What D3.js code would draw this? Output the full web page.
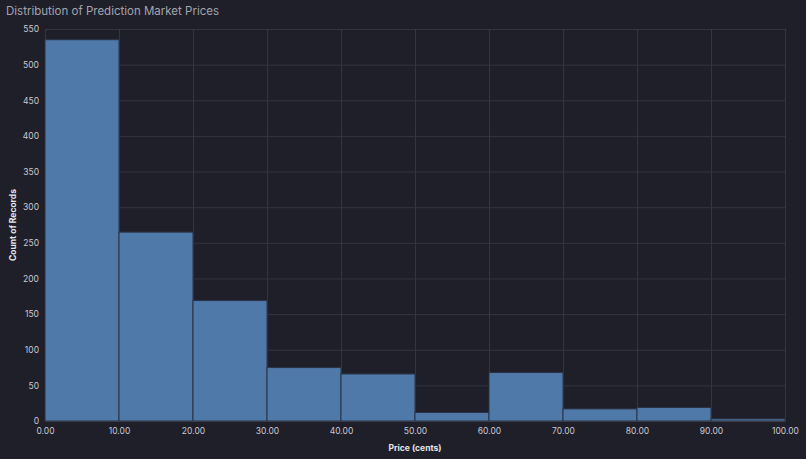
<!DOCTYPE html>
<html>
<head>
<meta charset="utf-8">
<script src="https://cdn.jsdelivr.net/npm/d3@7"></script>
<style>
  html, body { margin: 0; padding: 0; background: #1f1f29; }
  svg { display: block; }
</style>
</head>
<body>
<svg id="chart" width="806" height="459"></svg>
<script>
const binStarts = [0, 10, 20, 30, 40, 50, 60, 70, 80, 90];
const binWidth = 10;
const counts = [535, 265, 169, 75, 66, 12, 68, 17, 19, 3];
const xTicks = [0, 10, 20, 30, 40, 50, 60, 70, 80, 90, 100];
const yTicks = [0, 50, 100, 150, 200, 250, 300, 350, 400, 450, 500, 550];

const W = 806, H = 459;
const m = { left: 45, right: 21, top: 29, bottom: 38 };
const svg = d3.select("#chart");
const font = "Inter, 'Noto Sans', sans-serif";

svg.append("rect").attr("width", W).attr("height", H).attr("fill", "#1f1f29");

const x = d3.scaleLinear().domain([0, 100]).range([m.left, W - m.right]);
const y = d3.scaleLinear().domain([0, 550]).range([H - m.bottom, m.top]);

// gridlines
const grid = svg.append("g");
grid.selectAll(".hg").data(yTicks).join("line")
  .attr("x1", m.left).attr("x2", W - m.right)
  .attr("y1", d => y(d) + 0.5).attr("y2", d => y(d) + 0.5)
  .attr("stroke", "#34353f").attr("stroke-width", 1);
grid.selectAll(".vg").data(xTicks).join("line")
  .attr("x1", d => Math.round(x(d)) + 0.5).attr("x2", d => Math.round(x(d)) + 0.5)
  .attr("y1", m.top).attr("y2", H - m.bottom)
  .attr("stroke", "#34353f").attr("stroke-width", 1);

// bars
svg.append("g").selectAll("rect").data(binStarts).join("rect")
  .attr("x", (d) => x(d))
  .attr("width", d => x(d + binWidth) - x(d))
  .attr("y", (d, i) => y(counts[i]))
  .attr("height", (d, i) => y(0) - y(counts[i]))
  .attr("fill", "#4f79a8")
  .attr("stroke", "#2b3345")
  .attr("stroke-width", 1);

// axes
const yAxis = d3.axisLeft(y).tickValues(yTicks).tickSize(0).tickPadding(6).tickFormat(d3.format("d"));
const gy = svg.append("g").attr("transform", `translate(${m.left},0)`).call(yAxis);
gy.select(".domain").remove();
gy.selectAll("text").attr("fill", "#c9c9d1").attr("font-size", 8.5).attr("font-family", font);

const xAxis = d3.axisBottom(x).tickValues(xTicks).tickSize(0).tickPadding(7).tickFormat(d3.format(".2f"));
const gx = svg.append("g").attr("transform", `translate(0,${H - m.bottom})`).call(xAxis);
gx.select(".domain").attr("stroke", "#3a3b46");
gx.selectAll("text").attr("fill", "#c9c9d1").attr("font-size", 8.5).attr("font-family", font);

// titles
svg.append("text").attr("x", 6).attr("y", 15)
  .attr("fill", "#a3a4ae").attr("font-size", 11.5).attr("font-family", font)
  .text("Distribution of Prediction Market Prices");

svg.append("text")
  .attr("transform", `translate(16,${(m.top + H - m.bottom) / 2}) rotate(-90)`)
  .attr("text-anchor", "middle")
  .attr("fill", "#e6e6ec").attr("font-size", 8.5).attr("font-weight", "bold").attr("font-family", font)
  .text("Count of Records");

svg.append("text")
  .attr("x", (m.left + W - m.right) / 2).attr("y", 451)
  .attr("text-anchor", "middle")
  .attr("fill", "#e6e6ec").attr("font-size", 8.5).attr("font-weight", "bold").attr("font-family", font)
  .text("Price (cents)");
</script>
</body>
</html>
